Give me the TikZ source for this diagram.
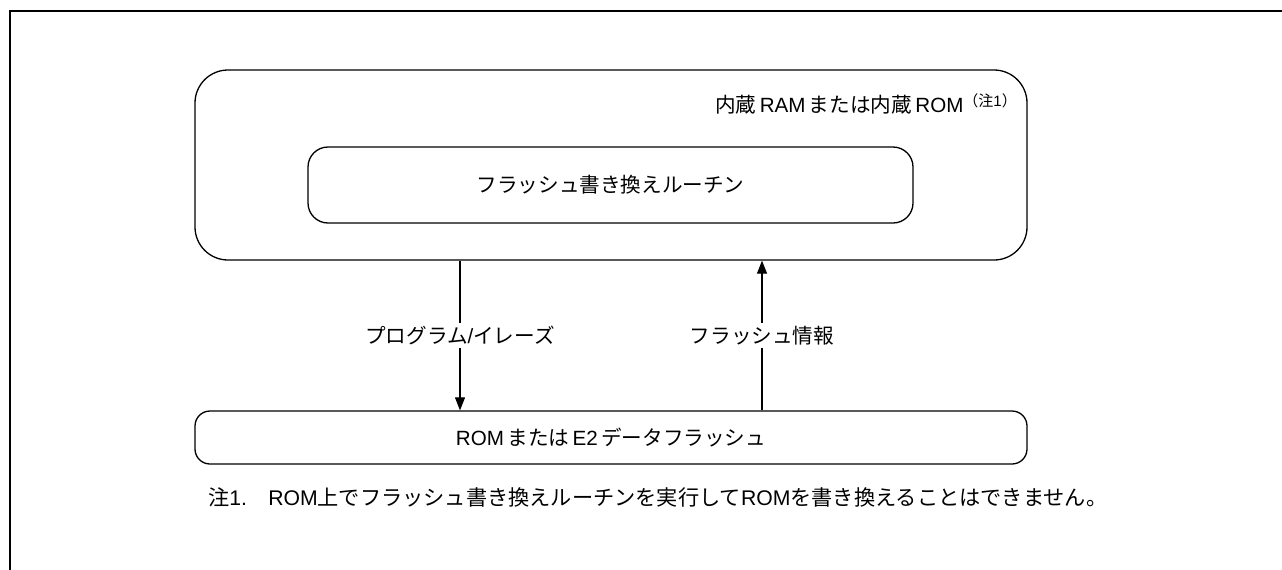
\documentclass[tikz,border=0pt]{standalone}
\usepackage{fontspec}
\setmainfont{Noto Sans CJK JP}
\newfontfamily\latinfont{Liberation Sans}
\newcommand{\lat}[1]{{\latinfont #1}}
\usepackage{tikz}
\usetikzlibrary{
  arrows.meta,
  positioning
}

\begin{document}
\begin{tikzpicture}[
  x=1pt, y=-1pt,
  font=\fontsize{20.6}{24}\selectfont,
  memory/.style={rectangle, draw, line width=1.3pt, rounded corners=33pt, minimum width=832pt, minimum height=190pt},
  routine/.style={rectangle, draw, line width=1.3pt, rounded corners=20pt, minimum width=605pt, minimum height=76pt},
  flash/.style={rectangle, draw, line width=1.3pt, rounded corners=15pt, minimum width=832pt, minimum height=53pt},
  pipe/.style={draw, line width=1.1pt, -{Triangle[length=13pt, width=10pt]}},
  tag/.style={fill=white, inner sep=3pt},
]
\useasboundingbox (0,0) rectangle (1282,570);

% outer frame (only top and left edges are visible)
\draw[line width=2.7pt] (10,570) -- (10,11) -- (1282,11);

\node[memory] (ram) at (611,165) {};
\node[anchor=east, inner sep=0pt] (ramlabel) at (1017,104) {内蔵\,\lat{RAM}\,または内蔵\,\lat{ROM}\raisebox{0.3em}{\fontsize{15}{15}\selectfont （注\lat{1}）}};
\node[routine] (rewrite) at (610.5,185) {フラッシュ書き換えルーチン};
\node[flash] (rom) at (611,437.5) {\lat{ROM}\,または\,\lat{E2}\,データフラッシュ};

\draw[pipe] ([xshift=-151pt]ram.south) -- node[tag] (erase) {プログラム\lat{/}イレーズ} ([xshift=-151pt]rom.north);
\draw[pipe] ([xshift=151pt]rom.north) -- node[tag] (info) {フラッシュ情報} ([xshift=151pt]ram.south);

% note
\node[anchor=west, inner sep=0pt, font=\fontsize{21.2}{24}\selectfont] (note) at (208,497) {注\lat{1.}\hspace{1em}\lat{ROM}上でフラッシュ書き換えルーチンを実行して\lat{ROM}を書き換えることはできません。};
\end{tikzpicture}
\end{document}
